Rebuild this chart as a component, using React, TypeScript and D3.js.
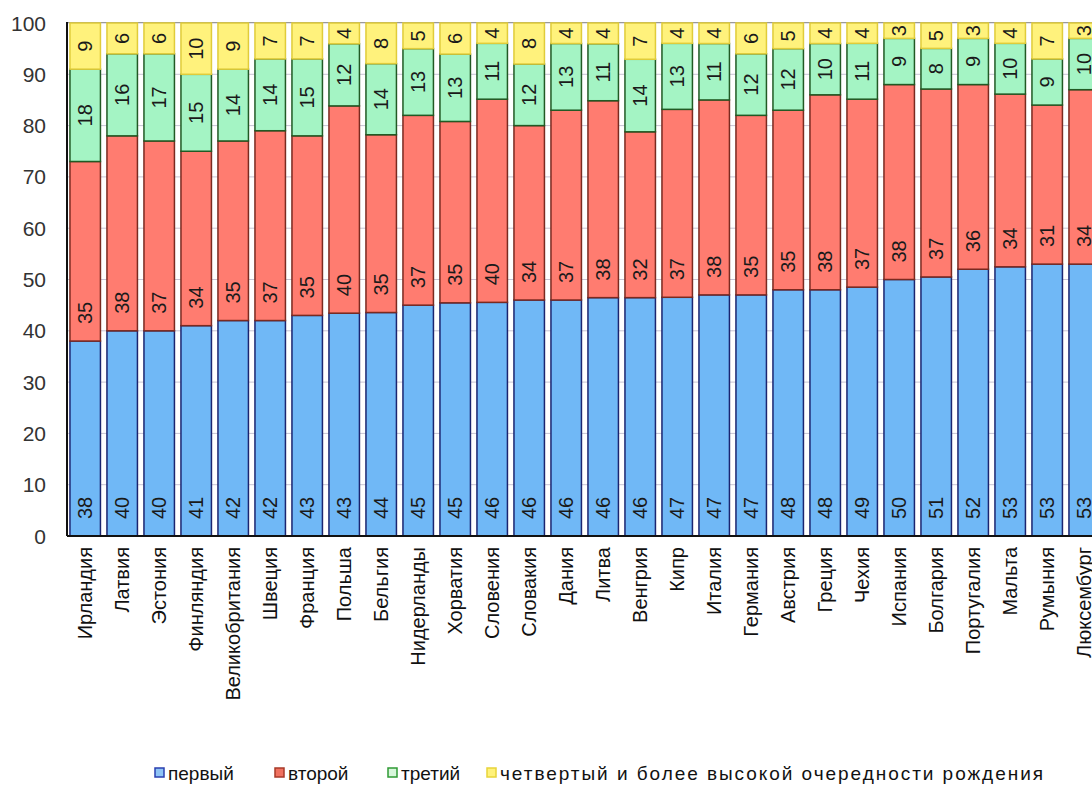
import React from "react";
import * as d3 from "d3";

const countries = [
  "Ирландия", "Латвия", "Эстония", "Финляндия", "Великобритания", "Швеция", "Франция",
  "Польша", "Бельгия", "Нидерланды", "Хорватия", "Словения", "Словакия", "Дания",
  "Литва", "Венгрия", "Кипр", "Италия", "Германия", "Австрия", "Греция", "Чехия",
  "Испания", "Болгария", "Португалия", "Мальта", "Румыния", "Люксембург",
];
const first = [38, 40, 40, 41, 42, 42, 43, 43, 44, 45, 45, 46, 46, 46, 46, 46, 47, 47, 47, 48, 48, 49, 50, 51, 52, 53, 53, 53];
const second = [35, 38, 37, 34, 35, 37, 35, 40, 35, 37, 35, 40, 34, 37, 38, 32, 37, 38, 35, 35, 38, 37, 38, 37, 36, 34, 31, 34];
const third = [18, 16, 17, 15, 14, 14, 15, 12, 14, 13, 13, 11, 12, 13, 11, 14, 13, 11, 12, 12, 10, 11, 9, 8, 9, 10, 9, 10];
const fourth = [9, 6, 6, 10, 9, 7, 7, 4, 8, 5, 6, 4, 8, 4, 4, 7, 4, 4, 6, 5, 4, 4, 3, 5, 3, 4, 7, 3];
const seriesNames = ["первый", "второй", "третий", "четвертый и более высокой очередности рождения"];
const yTicks = [0, 10, 20, 30, 40, 50, 60, 70, 80, 90, 100];

const fills = ["#70b8f6", "#ff7c70", "#a4f4c4", "#fff27c"];
const strokes = ["#1b2570", "#7a2a20", "#215a24", "#e0cc3a"];
const legendFill = ["#8fc4f5", "#f0715f", "#d8f7dc", "#fff27a"];
const legendStroke = ["#2a3fb0", "#a83a28", "#2f9a35", "#e8d43a"];

export default function App() {
  const W = 1092, H = 785;
  const top = 23, bottom = 536, left = 67;
  const keys = ["a", "b", "c", "d"];
  const table = countries.map((c, i) => ({ name: c, a: first[i], b: second[i], c: third[i], d: fourth[i] }));
  const raw = [first, second, third, fourth];
  const stack = d3.stack<any>().keys(keys).offset(d3.stackOffsetExpand);
  const series = stack(table);

  const x = d3.scaleBand<string>().domain(countries).range([left - 0.3, left - 0.3 + 37 * 28]).paddingInner(0.176).paddingOuter(0.088);
  const y = d3.scaleLinear().domain([0, 1]).range([bottom, top]);
  const bw = x.bandwidth();

  const legendX = [155, 275, 388, 487];

  return (
    <svg width={W} height={H} style={{ position: "absolute", left: 0, top: 0, background: "#fff" }}
      fontFamily="'Liberation Sans', Arial, sans-serif">
      <rect x={0} y={0} width={W} height={H} fill="#fff" />
      {yTicks.map((t) => (
        <g key={t}>
          <line x1={left} x2={W} y1={y(t / 100)} y2={y(t / 100)} stroke="#c8c4d4" strokeWidth={1} />
          <text x={46} y={y(t / 100)} textAnchor="end" dominantBaseline="central" fontSize={21} fill="#333">{t}</text>
        </g>
      ))}
      <line x1={left} x2={W} y1={top - 0.5} y2={top - 0.5} stroke="#999" strokeWidth={1} />
      {series.map((s, si) => (
        <g key={si}>
          {s.map((d, i) => {
            const x0 = x(countries[i])!;
            const y0 = y(d[1]);
            const y1 = y(d[0]);
            return (
              <rect key={i} x={x0} y={y0} width={bw} height={y1 - y0} fill={fills[si]} stroke={strokes[si]} strokeWidth={1.5} />
            );
          })}
        </g>
      ))}
      {series.map((s, si) => (
        <g key={"l" + si}>
          {s.map((d, i) => {
            const cx = x(countries[i])! + bw / 2;
            const yb = y(d[0]);
            const yt = y(d[1]);
            const inside = si < 2;
            const ty = inside ? yb - 17 : (yb + yt) / 2;
            return (
              <text key={i} transform={`translate(${cx},${ty}) rotate(-90)`} textAnchor={inside ? "start" : "middle"}
                dominantBaseline="central" fontSize={20} fill="#1a1a1a">{raw[si][i]}</text>
            );
          })}
        </g>
      ))}
      <line x1={left} x2={left} y1={top - 1} y2={bottom} stroke="#111" strokeWidth={2} />
      <line x1={left} x2={W} y1={bottom} y2={bottom} stroke="#111" strokeWidth={2} />
      {countries.map((c) => (
        <text key={c} transform={`translate(${x(c)! + bw / 2},${547}) rotate(-90)`} textAnchor="end"
          dominantBaseline="central" fontSize={20} fill="#111">{c}</text>
      ))}
      {seriesNames.map((n, i) => (
        <g key={n}>
          <rect x={legendX[i]} y={768} width={9} height={9} fill={legendFill[i]} stroke={legendStroke[i]} strokeWidth={1.5} />
          <text x={legendX[i] + 13} y={773} dominantBaseline="central" fontSize={19} fill="#111"
            {...(i === 3 ? { textLength: 543, lengthAdjust: "spacing" } : {})}>{n}</text>
        </g>
      ))}
    </svg>
  );
}
